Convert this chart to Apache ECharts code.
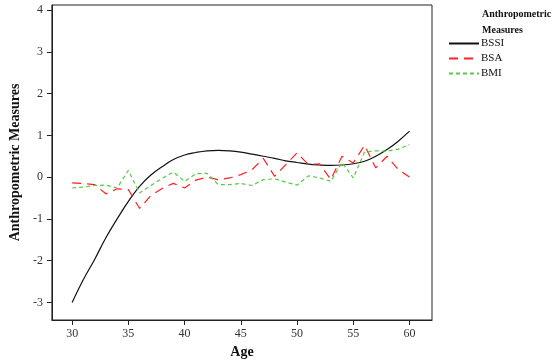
<!DOCTYPE html>
<html>
<head>
<meta charset="utf-8">
<script src="https://cdn.jsdelivr.net/npm/echarts@6/dist/echarts.min.js"></script>
<style>
  html, body { margin: 0; padding: 0; background: #fff; }
  #main { width: 557px; height: 364px; }
</style>
</head>
<body>
<div id="main"></div>
<script>
// ages 30..60, one value per year
const ages = [30,31,32,33,34,35,36,37,38,39,40,41,42,43,44,45,46,47,48,49,50,51,52,53,54,55,56,57,58,59,60];

const bssi = [-3.00,-2.45,-1.97,-1.45,-1.00,-0.58,-0.22,0.05,0.25,0.42,0.53,0.59,0.63,0.64,0.63,0.60,
              0.55,0.50,0.45,0.39,0.35,0.31,0.29,0.28,0.29,0.32,0.38,0.50,0.66,0.86,1.10];
const bsa = [-0.14,-0.15,-0.18,-0.40,-0.28,-0.30,-0.75,-0.44,-0.27,-0.15,-0.26,-0.07,0.00,-0.06,-0.02,0.06,
             0.18,0.45,0.02,0.30,0.58,0.30,0.32,-0.06,0.50,0.34,0.76,0.22,0.50,0.18,0.00];
const bmi = [-0.26,-0.24,-0.20,-0.19,-0.26,0.16,-0.38,-0.20,-0.03,0.12,-0.10,0.08,0.09,-0.18,-0.18,-0.15,
             -0.20,-0.06,-0.04,-0.12,-0.19,0.03,-0.02,-0.10,0.35,-0.02,0.60,0.63,0.62,0.67,0.78];

const xTicks = [30,35,40,45,50,55,60];
const yTicks = [-3,-2,-1,0,1,2,3,4];

const serif = '"Liberation Serif", "DejaVu Serif", serif';

function pairs(vals) {
  return ages.map((a, i) => [a, vals[i]]);
}

var chart = echarts.init(document.getElementById('main'));

var option = {
  animation: false,
  backgroundColor: '#fff',
  title: {
    text: 'Anthropometric\nMeasures',
    left: 477, top: 1,
    textStyle: { fontFamily: serif, fontSize: 10, fontWeight: 'bold', color: '#111', lineHeight: 16 }
  },
  legend: {
    orient: 'vertical',
    left: 443, top: 33,
    itemWidth: 30, itemHeight: 10, itemGap: 4,
    itemStyle: { opacity: 0 },
    textStyle: { fontFamily: serif, fontSize: 11, color: '#111', padding: [0, 0, 0, -3] },
    data: ['BSSI', 'BSA', 'BMI']
  },
  grid: {
    left: 44, right: 125, top: 5, bottom: 44,
    show: true, borderColor: '#222', borderWidth: 1
  },
  xAxis: {
    type: 'value', min: 28.2, max: 62,
    name: 'Age', nameLocation: 'middle', nameGap: 24,
    nameTextStyle: { fontFamily: serif, fontSize: 14, fontWeight: 'bold', color: '#111' },
    axisLine: { show: true, onZero: false, lineStyle: { color: '#222' } },
    axisTick: { show: true, length: 5, customValues: xTicks, lineStyle: { color: '#222' } },
    axisLabel: { customValues: xTicks, margin: 8, fontFamily: serif, fontSize: 12, color: '#333' },
    splitLine: { show: false }
  },
  yAxis: {
    type: 'value', min: -3.42, max: 4.12,
    name: 'Anthropometric Measures', nameLocation: 'middle', nameGap: 28, nameRotate: 90,
    nameTextStyle: { fontFamily: serif, fontSize: 14, fontWeight: 'bold', color: '#111' },
    axisLine: { show: true, onZero: false, lineStyle: { color: '#222' } },
    axisTick: { show: true, length: 5, customValues: yTicks, lineStyle: { color: '#222' } },
    axisLabel: { customValues: yTicks, margin: 9, fontFamily: serif, fontSize: 12, color: '#333' },
    splitLine: { show: false }
  },
  series: [
    {
      name: 'BSSI', type: 'line', data: pairs(bssi), symbol: 'none', smooth: 0.4,
      lineStyle: { color: '#111', width: 1.2 }, itemStyle: { color: '#111' }
    },
    {
      name: 'BSA', type: 'line', data: pairs(bsa), symbol: 'none',
      lineStyle: { color: '#ff2020', width: 1.2, type: [9, 6] }, itemStyle: { color: '#ff2020' }
    },
    {
      name: 'BMI', type: 'line', data: pairs(bmi), symbol: 'none',
      lineStyle: { color: '#55cc44', width: 1.2, type: [4, 3] }, itemStyle: { color: '#55cc44' }
    }
  ]
};

chart.setOption(option);
</script>
</body>
</html>
